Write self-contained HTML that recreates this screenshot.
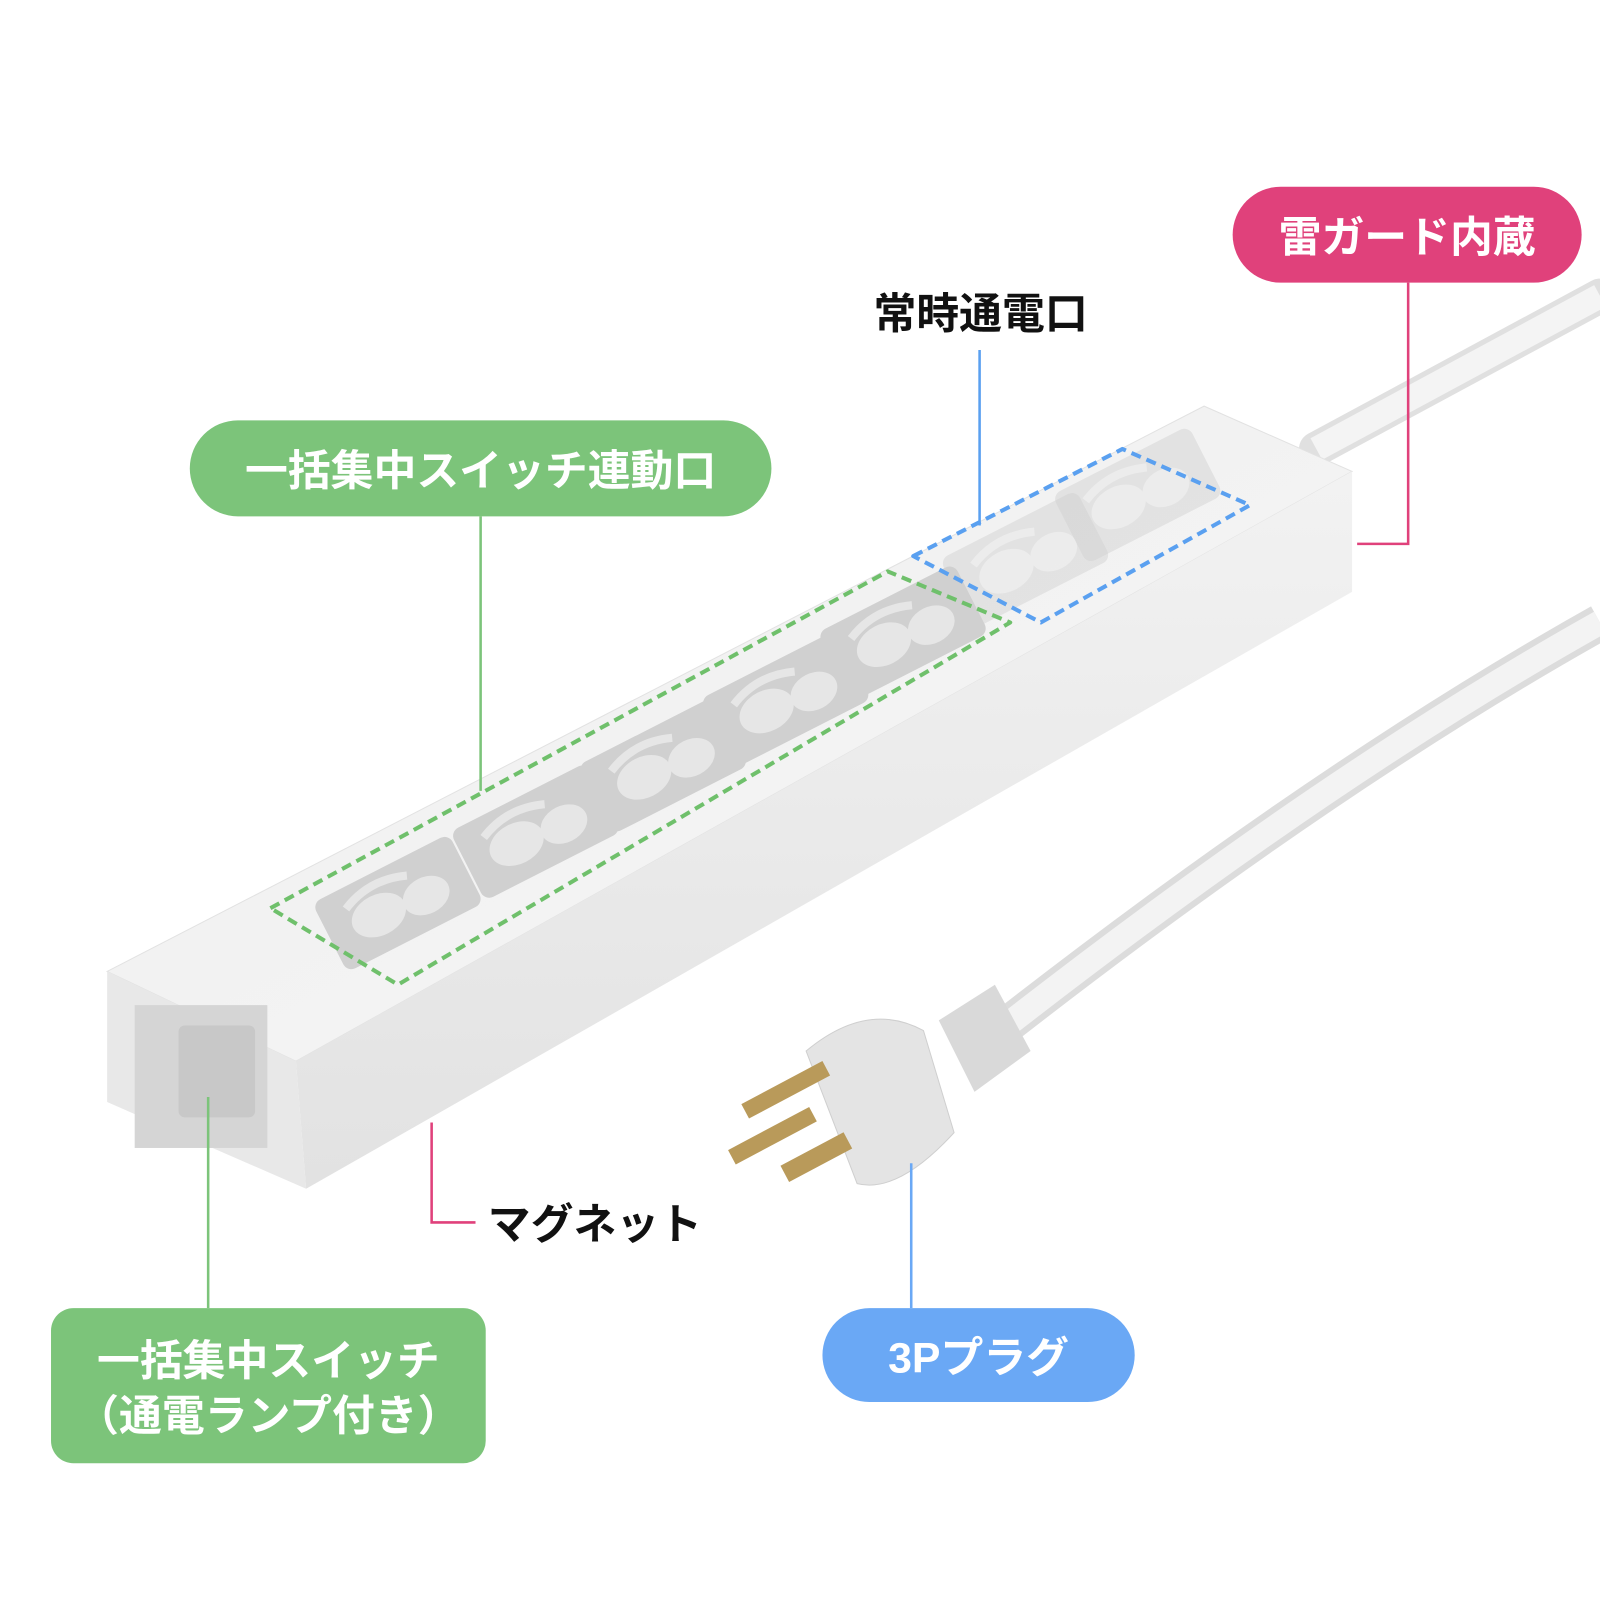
<!DOCTYPE html>
<html><head><meta charset="utf-8"><style>
html,body{margin:0;padding:0;background:#fff}
svg{display:block}
text{font-family:"Liberation Sans","Noto Sans CJK JP",sans-serif;font-weight:bold}
</style></head><body>
<svg width="1600" height="1600" viewBox="0 0 1568 1568" xmlns="http://www.w3.org/2000/svg">
<defs>
<linearGradient id="side" x1="0" y1="0" x2="0" y2="1"><stop offset="0" stop-color="#f2f2f2"/><stop offset="1" stop-color="#e2e2e2"/></linearGradient>
<linearGradient id="top" x1="0" y1="0" x2="1" y2="1"><stop offset="0" stop-color="#efefef"/><stop offset="1" stop-color="#f6f6f6"/></linearGradient>
<g id="outlet">
<rect x="-75" y="-38" width="150" height="76" rx="9" fill="#d0d0d0"/>
<ellipse cx="-22" cy="2" rx="28" ry="20" fill="#e6e6e6"/>
<ellipse cx="28" cy="6" rx="24" ry="18" fill="#e6e6e6"/>
<path d="M-48 -18 Q -15 -34 20 -20" stroke="#e6e6e6" stroke-width="8" fill="none"/>
</g>
</defs>
<!-- cords -->
<path d="M1290 440 L1568 290" stroke="#e0e0e0" stroke-width="34" fill="none" stroke-linecap="round"/>
<path d="M1290 440 L1568 290" stroke="#f4f4f4" stroke-width="24" fill="none"/>
<path d="M980 1010 Q1300 760 1568 610" stroke="#dcdcdc" stroke-width="36" fill="none"/>
<path d="M980 1010 Q1300 760 1568 610" stroke="#f3f3f3" stroke-width="24" fill="none"/>
<!-- strip body -->
<polygon points="105,952 1180,398 1325,462 290,1040" fill="url(#top)" stroke="#e2e2e2"/>
<polygon points="290,1040 1325,462 1325,580 300,1165" fill="url(#side)"/>
<polygon points="105,952 290,1040 300,1165 105,1080" fill="#e8e8e8"/>
<rect x="132" y="985" width="130" height="140" fill="#d5d5d5"/>
<rect x="175" y="1005" width="75" height="90" rx="6" fill="#c8c8c8"/>
<!-- outlets -->
<g transform="translate(390,885) rotate(-27)"><use href="#outlet"/></g>
<g transform="translate(525,815) rotate(-27)"><use href="#outlet"/></g>
<g transform="translate(650,750) rotate(-27)"><use href="#outlet"/></g>
<g transform="translate(770,685) rotate(-27)"><use href="#outlet"/></g>
<g transform="translate(885,620) rotate(-27)"><use href="#outlet"/></g>
<g transform="translate(1005,548) rotate(-27)"><use href="#outlet" opacity="0.45"/></g>
<g transform="translate(1115,485) rotate(-27)"><use href="#outlet" opacity="0.45"/></g>
<!-- dashed groups -->
<polygon points="265,890 870,560 990,610 390,965" fill="none" stroke="#6fc06b" stroke-width="4" stroke-dasharray="10,6" stroke-linejoin="round"/>
<polygon points="895,545 1100,440 1225,495 1020,610" fill="none" stroke="#5aa0f0" stroke-width="4" stroke-dasharray="10,6" stroke-linejoin="round"/>
<!-- plug -->
<path d="M920 1000 L975 965 L1010 1030 L955 1070 Z" fill="#d9d9d9"/>
<path d="M790 1030 Q850 980 905 1010 L935 1110 Q880 1170 840 1160 Z" fill="#e4e4e4" stroke="#cfcfcf"/>
<rect x="725" y="1060" width="90" height="16" fill="#b99a5a" transform="rotate(-28 770 1068)"/>
<rect x="712" y="1105" width="90" height="16" fill="#b99a5a" transform="rotate(-28 757 1113)"/>
<rect x="765" y="1125" width="70" height="18" fill="#b99a5a" transform="rotate(-28 800 1134)"/>
<!-- callouts -->
<rect x="1208" y="183" width="342" height="94" rx="47" fill="#e0417b"/>
<text x="1379" y="247" font-size="42" fill="#fff" text-anchor="middle">雷ガード内蔵</text>
<polyline points="1380,277 1380,533 1330,533" fill="none" stroke="#e0417b" stroke-width="2.5"/>
<text x="961" y="322" font-size="42" fill="#111" text-anchor="middle">常時通電口</text>
<line x1="960" y1="343" x2="960" y2="515" stroke="#5aa0f0" stroke-width="2.5"/>
<rect x="186" y="412" width="570" height="94" rx="47" fill="#7cc47a"/>
<text x="471" y="476" font-size="42" fill="#fff" text-anchor="middle">一括集中スイッチ連動口</text>
<line x1="471" y1="506" x2="471" y2="775" stroke="#7cc47a" stroke-width="2.5"/>
<rect x="50" y="1282" width="426" height="152" rx="22" fill="#7cc47a"/>
<text x="263" y="1348" font-size="42" fill="#fff" text-anchor="middle">一括集中スイッチ</text>
<text x="263" y="1402" font-size="42" fill="#fff" text-anchor="middle">（通電ランプ付き）</text>
<line x1="204" y1="1075" x2="204" y2="1282" stroke="#7cc47a" stroke-width="2.5"/>
<rect x="806" y="1282" width="306" height="92" rx="46" fill="#6aa8f5"/>
<text x="959" y="1345" font-size="42" fill="#fff" text-anchor="middle">3Pプラグ</text>
<line x1="893" y1="1140" x2="893" y2="1282" stroke="#6aa8f5" stroke-width="2.5"/>
<polyline points="423,1100 423,1198 466,1198" fill="none" stroke="#e0417b" stroke-width="2.5"/>
<text x="478" y="1214" font-size="42" fill="#111">マグネット</text>
</svg>
</body></html>
